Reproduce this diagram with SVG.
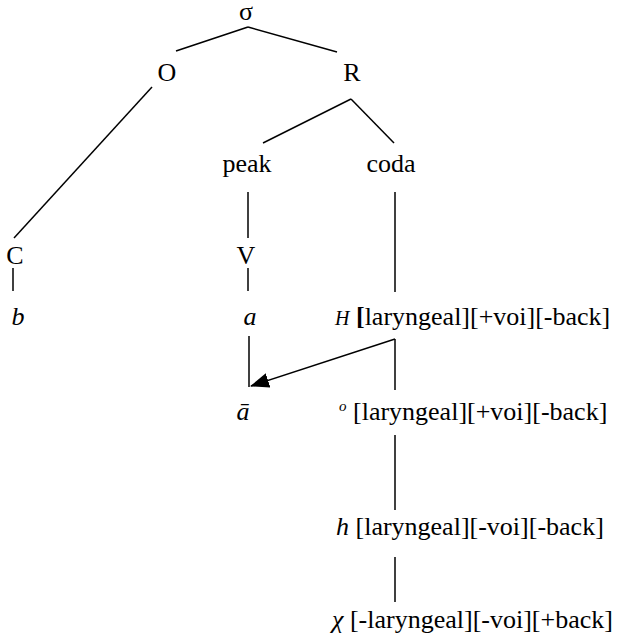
<svg xmlns="http://www.w3.org/2000/svg" width="621" height="640" viewBox="0 0 621 640" font-family="'Liberation Serif', 'Times New Roman', serif">
<style>
text{font-family:'Liberation Serif','Times New Roman',serif;font-size:26px;fill:#000}
.m{text-anchor:middle}
.i{font-style:italic}
.ln line{stroke:#000;stroke-width:1.5;fill:none}
</style>
<defs>
<marker id="ah" markerUnits="userSpaceOnUse" markerWidth="20" markerHeight="15" refX="18" refY="7.5" orient="auto">
<path d="M0,0 L19,7.5 L0,15 Z" fill="#000"/>
</marker>
</defs>
<rect width="621" height="640" fill="#fff"/>
<g id="connectors" class="ln">
<line x1="176" y1="51" x2="248" y2="27"/>
<line x1="248" y1="27" x2="337" y2="52"/>
<line x1="152" y1="87" x2="14" y2="238"/>
<line x1="351" y1="99" x2="263" y2="143"/>
<line x1="351" y1="99" x2="394" y2="143"/>
<line x1="248" y1="192" x2="248" y2="238"/>
<line x1="248" y1="268" x2="248" y2="291"/>
<line x1="395" y1="192" x2="395" y2="292"/>
<line x1="13" y1="268" x2="13" y2="291"/>
<line x1="249" y1="336" x2="249" y2="387"/>
<line x1="395" y1="339" x2="395" y2="390"/>
<line x1="395" y1="435" x2="395" y2="510"/>
<line x1="395" y1="557" x2="395" y2="602"/>
<line x1="395" y1="339" x2="251" y2="386" stroke-width="2.5" marker-end="url(#ah)"/>
</g>
<g id="sigma"><text class="m" x="246" y="20">σ</text></g>
<g id="O"><text class="m" x="167" y="81">O</text></g>
<g id="R"><text class="m" x="352" y="81">R</text></g>
<g id="peak"><text class="m" x="247" y="172">peak</text></g>
<g id="coda"><text class="m" x="391" y="172">coda</text></g>
<g id="C"><text class="m" x="15" y="264">C</text></g>
<g id="V"><text class="m" x="246" y="264">V</text></g>
<g id="b"><text class="m i" x="18" y="325">b</text></g>
<g id="a"><text class="m i" x="250" y="325">a</text></g>
<g id="H"><text x="335" y="325"><tspan class="i" font-size="20">H</tspan> <tspan font-weight="bold">[</tspan>laryngeal][+voi][-back]</text></g>
<g id="abar"><text class="m i" x="243" y="420">ā</text></g>
<g id="o"><text x="339" y="420"><tspan class="i" font-size="15" dy="-9">o</tspan><tspan dy="9"> [laryngeal][+voi][-back]</tspan></text></g>
<g id="h"><text x="336" y="535"><tspan class="i">h</tspan> [laryngeal][-voi][-back]</text></g>
<g id="chi"><text x="332" y="628"><tspan class="i">χ</tspan> [-laryngeal][-voi][+back]</text></g>
</svg>
